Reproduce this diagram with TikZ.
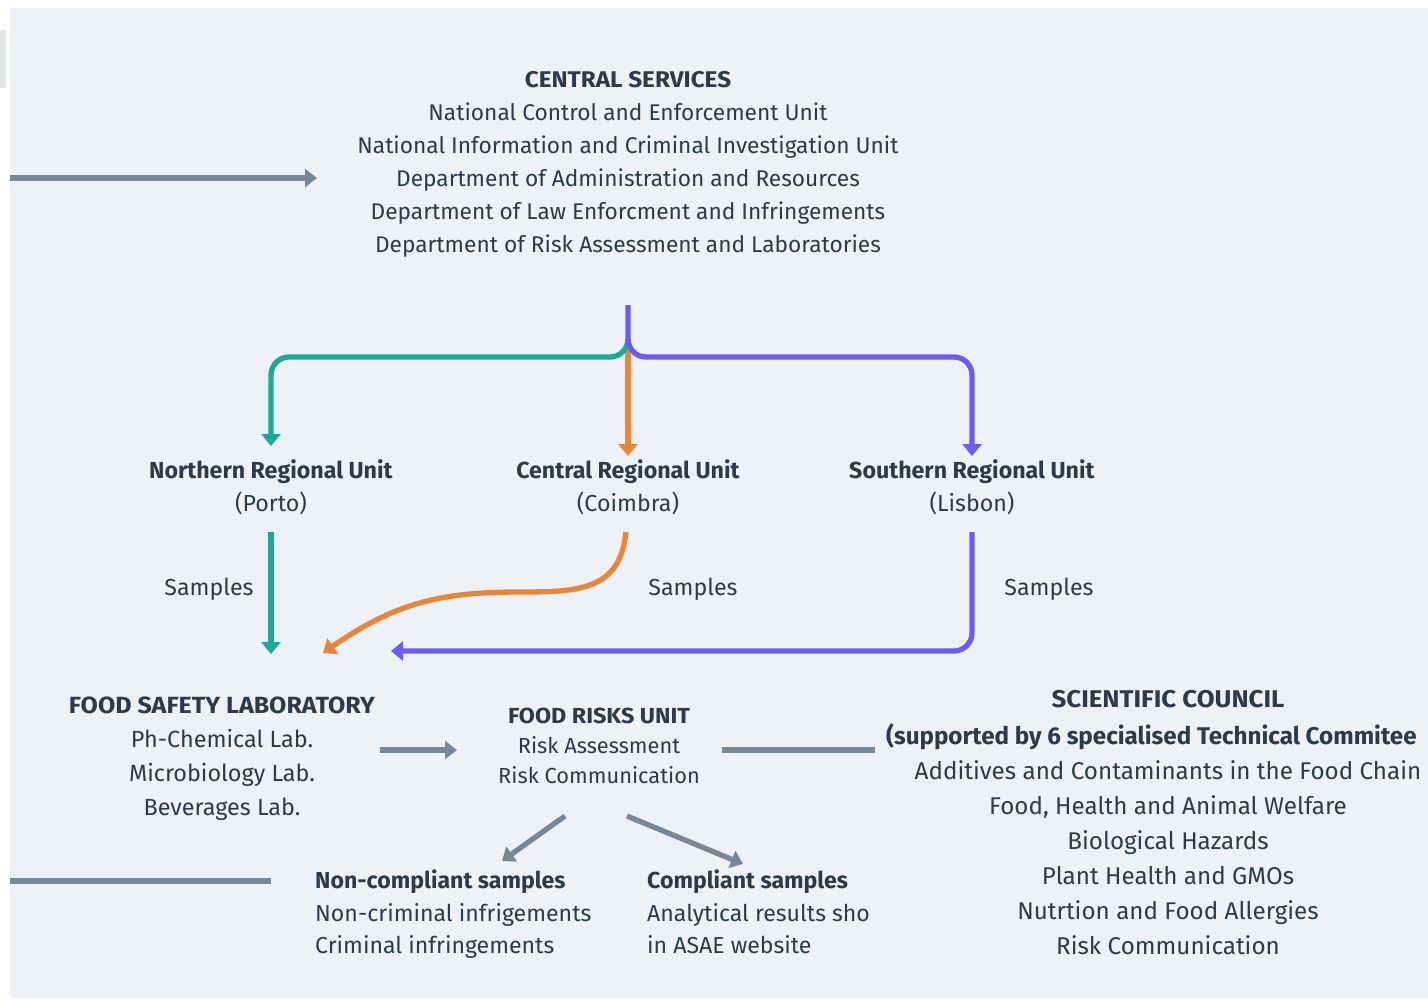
\documentclass[tikz,border=0pt]{standalone}
\usepackage{fontspec}
\setmainfont{Fira Sans}
\newfontfamily\capsfam{Fira Sans}[FakeStretch=1.07]
\newcommand{\captitle}[1]{{\capsfam\bfseries #1}}
\usetikzlibrary{arrows.meta,calc}
\definecolor{bgc}{RGB}{238,242,246}
\definecolor{markc}{RGB}{226,231,230}
\definecolor{txtc}{RGB}{46,58,74}
\definecolor{grayc}{RGB}{120,136,153}
\definecolor{tealc}{RGB}{26,170,150}
\definecolor{orangec}{RGB}{233,134,58}
\definecolor{purplec}{RGB}{106,92,245}
\begin{document}
\begin{tikzpicture}[x=1pt,y=-1pt,
  txt/.style={inner sep=0pt, text=txtc, align=center, font=\fontsize{23.2}{33}\selectfont},
  txtl/.style={txt, align=left, font=\fontsize{23.1}{32.5}\selectfont},
  csf/.style={txt, font=\fontsize{22.7}{33}\selectfont},
  small/.style={txt, font=\fontsize{21.8}{30}\selectfont},
  sci/.style={txt, font=\fontsize{24.2}{35}\selectfont},
  lab/.style={txt, font=\fontsize{23.4}{34}\selectfont},
  grayline/.style={draw=grayc, line width=5.3pt},
  grayarrow/.style={grayline, -{Triangle[width=18pt,length=12pt]}},
  colarrow/.style={line width=5.3pt, rounded corners=18pt, -{Triangle[width=19pt,length=12pt]}}
]
\fill[white] (0,0) rectangle (1428,1001);
\useasboundingbox (0,0) rectangle (1428,1001);
\fill[bgc] (10,8) rectangle (1428,998);
\fill[markc] (0,30) rectangle (6,88);

% text blocks
\node[csf, anchor=north] (cs) at (628,71) {\captitle{CENTRAL SERVICES}\\National Control and Enforcement Unit\\National Information and Criminal Investigation Unit\\Department of Administration and Resources\\Department of Law Enforcment and Infringements\\Department of Risk Assessment and Laboratories};
\node[txt, anchor=north] (nru) at (271,459) {\textbf{Northern Regional Unit}\\(Porto)};
\node[txt, anchor=north] (cru) at (628,459) {\textbf{Central Regional Unit}\\(Coimbra)};
\node[txt, anchor=north] (sru) at (972,459) {\textbf{Southern Regional Unit}\\(Lisbon)};
\node[txt] (s1) at (209,589) {Samples};
\node[txt] (s2) at (693,589) {Samples};
\node[txt] (s3) at (1049,589) {Samples};
\node[lab, anchor=north] (fsl) at (222,697) {\captitle{FOOD SAFETY LABORATORY}\\Ph-Chemical Lab.\\Microbiology Lab.\\Beverages Lab.};
\node[small, anchor=north] (fru) at (599,708) {\captitle{FOOD RISKS UNIT}\\Risk Assessment\\Risk Communication};
\node[sci, anchor=north] (sct) at (1168,690) {\captitle{SCIENTIFIC COUNCIL}};
\node[sci, anchor=north west] (scs) at (886,724) {\textbf{(supported by 6 specialised Technical Commitee}};
\node[sci, anchor=north] (scl) at (1168,760) {Additives and Contaminants in the Food Chain\\Food, Health and Animal Welfare\\Biological Hazards\\Plant Health and GMOs\\Nutrtion and Food Allergies\\Risk Communication};
\node[txtl, anchor=north west] (ncs) at (315,870) {\textbf{Non-compliant samples}\\Non-criminal infrigements\\Criminal infringements};
\node[txtl, anchor=north west] (cs2) at (647,870) {\textbf{Compliant samples}\\Analytical results sho\\in ASAE website};

% coordinates
\coordinate (inL) at (10,178);
\coordinate (inR) at (317,178);
\coordinate (split) at (628,305);
\coordinate (bus) at (628,357);
\coordinate (orTop) at (628,340);
\coordinate (nTip) at (271,446);
\coordinate (cTip) at (628,456);
\coordinate (sTip) at (972,456);
\coordinate (nS) at (271,532);
\coordinate (nE) at (271,654);
\coordinate (cS) at (626,532);
\coordinate (cE) at (323,653);
\coordinate (sS) at (972,532);
\coordinate (sE) at (391,651);
\coordinate (a1s) at (380,750);
\coordinate (a1e) at (457,750);
\coordinate (l1s) at (722,750);
\coordinate (l1e) at (875,750);
\coordinate (a2s) at (565,816);
\coordinate (a2e) at (502,861);
\coordinate (a3s) at (627,816);
\coordinate (a3e) at (743,864);
\coordinate (bL) at (10,881);
\coordinate (bR) at (271,881);

% connectors
\draw[grayarrow] (inL) -- (inR);
\draw[colarrow, orangec] (orTop) -- (cTip);
\draw[colarrow, tealc] (orTop) -- (bus) -| (nTip);
\draw[colarrow, purplec] (split) -- (bus) -| (sTip);
\draw[colarrow, tealc] (nS) -- (nE);
\draw[line width=5.3pt, orangec, -{Triangle[width=19pt,length=12pt]}] (cS) .. controls (620,590) and (580,592) .. (520,592) .. controls (440,592) and (395,603) .. (cE);
\draw[colarrow, purplec] (sS) |- (sE);
\draw[grayarrow] (a1s) -- (a1e);
\draw[grayline] (l1s) -- (l1e);
\draw[grayarrow] (a2s) -- (a2e);
\draw[grayarrow] (a3s) -- (a3e);
\draw[grayline] (bL) -- (bR);
\end{tikzpicture}
\end{document}
